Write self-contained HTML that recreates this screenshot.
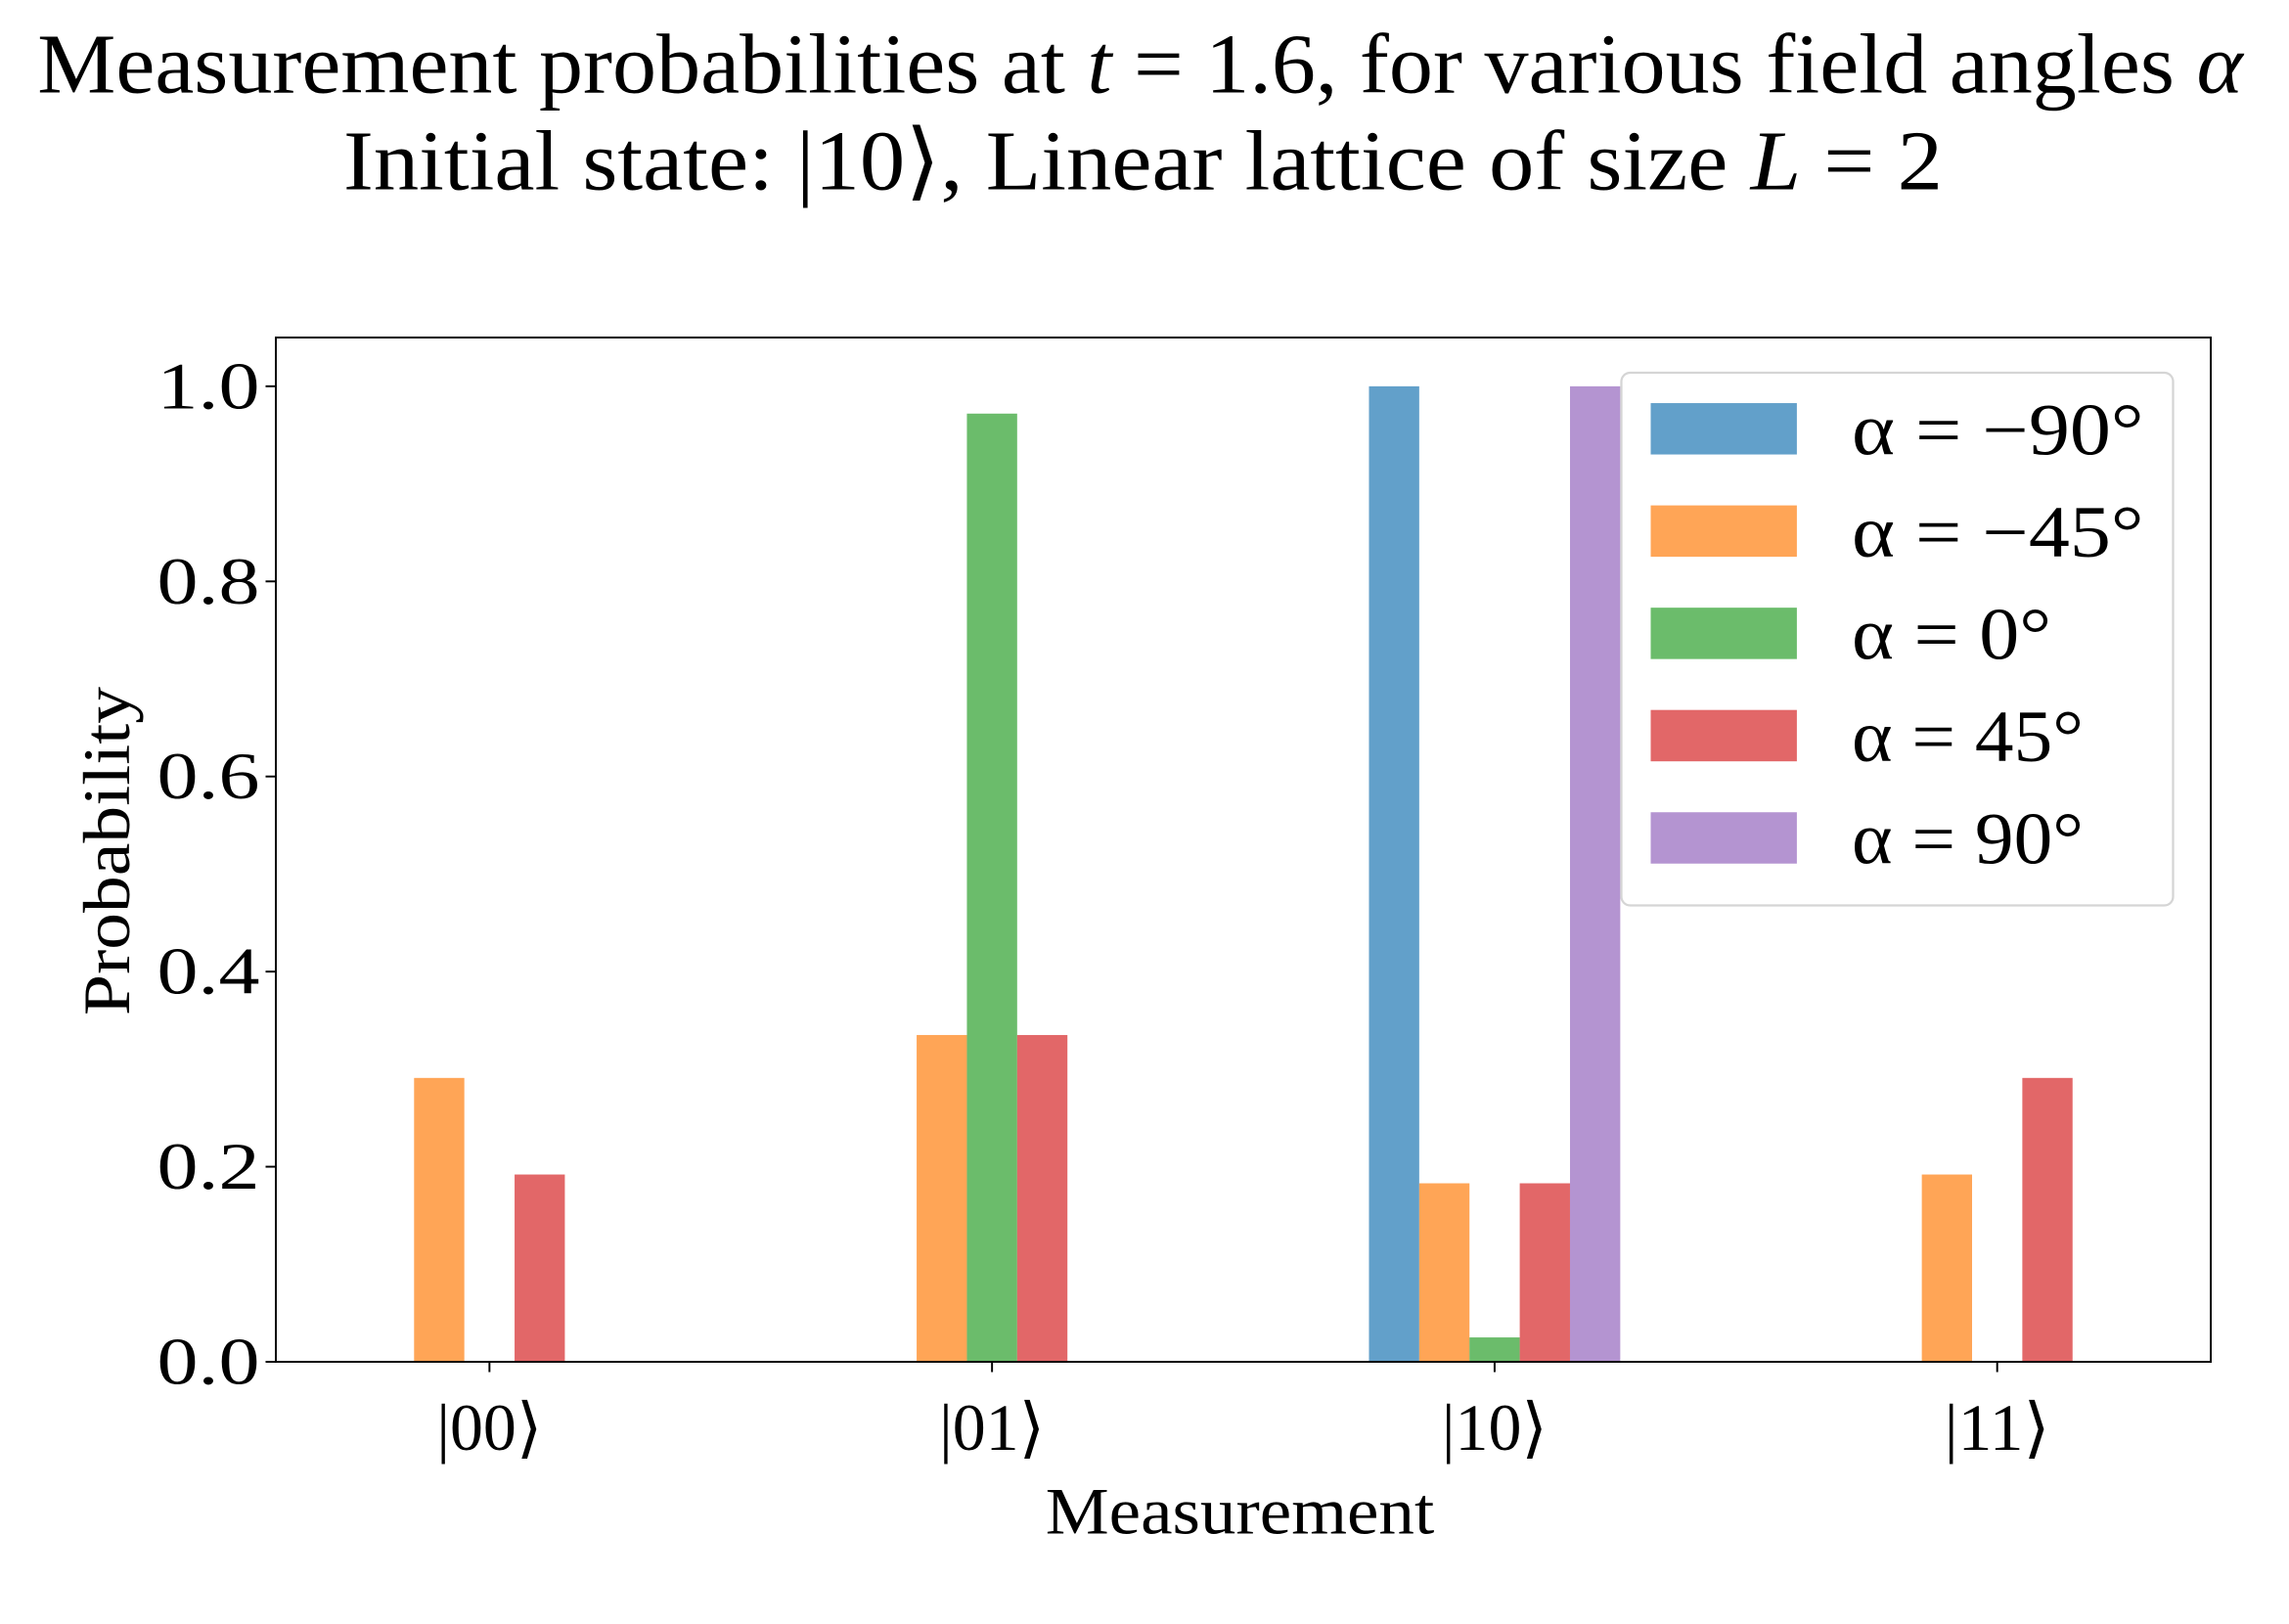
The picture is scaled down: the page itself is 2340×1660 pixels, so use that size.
<!DOCTYPE html>
<html><head><meta charset="utf-8"><style>html,body{margin:0;padding:0;background:#fff}svg{display:block}text{font-family:"Liberation Serif","DejaVu Serif",serif;fill:#000}</style></head>
<body>
<svg id="chart" width="2340" height="1660" viewBox="0 0 1560 1106.67" xmlns="http://www.w3.org/2000/svg">
<rect width="1560" height="1106.67" fill="#fff"/>
<text x="777" y="63" font-size="58" text-anchor="middle" textLength="1503" lengthAdjust="spacingAndGlyphs">Measurement probabilities at <tspan font-style="italic">t</tspan> = 1.6, for various field angles <tspan font-style="italic">α</tspan></text>
<text x="779" y="129" font-size="58" text-anchor="middle" textLength="1090" lengthAdjust="spacingAndGlyphs">Initial state: |10⟩, Linear lattice of size <tspan font-style="italic">L</tspan> = 2</text>
<g id="bars"></g>
<g id="axes"></g>
<text x="845" y="1045" font-size="45" text-anchor="middle" textLength="265" lengthAdjust="spacingAndGlyphs">Measurement</text>
<text transform="translate(88,580) rotate(-90)" font-size="45" text-anchor="middle" textLength="224" lengthAdjust="spacingAndGlyphs">Probability</text>
<g id="legend"></g>
</svg>
<script>
const categories = ["|00⟩","|01⟩","|10⟩","|11⟩"];
const seriesLabels = ["α = −90°","α = −45°","α = 0°","α = 45°","α = 90°"];
const seriesColors = ["#1f77b4","#ff7f0e","#2ca02c","#d62728","#9467bd"];
const sM90 = [0, 0, 1.0, 0];
const sM45 = [0.291, 0.335, 0.183, 0.192];
const s0 = [0, 0.972, 0.025, 0];
const s45 = [0.192, 0.335, 0.183, 0.291];
const s90 = [0, 0, 1.0, 0];
const yTicks = [0, 0.2, 0.4, 0.6, 0.8, 1.0];
const yTickLabels = ["0.0","0.2","0.4","0.6","0.8","1.0"];

const NS="http://www.w3.org/2000/svg";
const L=188,R=1506.7,T=230,B=928;
const xMin=-0.425,xMax=3.425,yMin=0,yMax=1.05;
const xs=v=>L+(v-xMin)/(xMax-xMin)*(R-L);
const ys=v=>B-(v-yMin)/(yMax-yMin)*(B-T);
function mk(tag,attrs,parent){const e=document.createElementNS(NS,tag);for(const k in attrs)e.setAttribute(k,attrs[k]);parent.appendChild(e);return e;}
const series=[sM90,sM45,s0,s45,s90];
const bw=0.1;
const bars=document.getElementById('bars');
series.forEach((s,si)=>{s.forEach((v,ci)=>{
  const x0=ci+(si-2)*bw-bw/2;
  const r=mk('rect',{x:xs(x0),y:ys(v),width:xs(x0+bw)-xs(x0),height:ys(0)-ys(v),fill:seriesColors[si],'fill-opacity':0.7},bars);
  
  
});});
const axes=document.getElementById('axes');
const fr=mk('rect',{x:L,y:T,width:R-L,height:B-T,fill:'none',stroke:'#000','stroke-width':1.3},axes);


yTicks.forEach((t,i)=>{
  mk('line',{x1:L-7,x2:L,y1:ys(t),y2:ys(t),stroke:'#000','stroke-width':1.3},axes);
  const tx=mk('text',{x:L-11,y:ys(t)+15,'font-size':45,'text-anchor':'end',textLength:70,lengthAdjust:'spacingAndGlyphs'},axes);
  tx.textContent=yTickLabels[i];
  
  
});
categories.forEach((c,i)=>{
  mk('line',{x1:xs(i),x2:xs(i),y1:B,y2:B+7,stroke:'#000','stroke-width':1.3},axes);
  const tx=mk('text',{x:xs(i),y:B+60,'font-size':45,'text-anchor':'middle',textLength:72,lengthAdjust:'spacingAndGlyphs'},axes);
  tx.textContent=c;
  
  
});
const legendTextWidths=[199,199,136,158,158];
const lg=document.getElementById('legend');
const lb=mk('rect',{x:1105,y:254,width:376,height:363,rx:6,fill:'#fff','fill-opacity':0.8,stroke:'#d5d5d5','stroke-width':1.5},lg);


seriesLabels.forEach((s,i)=>{
  const cy=291.7+i*69.7;
  const p=mk('rect',{x:1125,y:cy-17,width:99.6,height:35,fill:seriesColors[i],'fill-opacity':0.7},lg);
  
  
  const t=mk('text',{x:1262,y:cy+18,'font-size':50,textLength:legendTextWidths[i],lengthAdjust:'spacingAndGlyphs'},lg);
  t.textContent=s;
  
  
});
</script>
</body></html>
